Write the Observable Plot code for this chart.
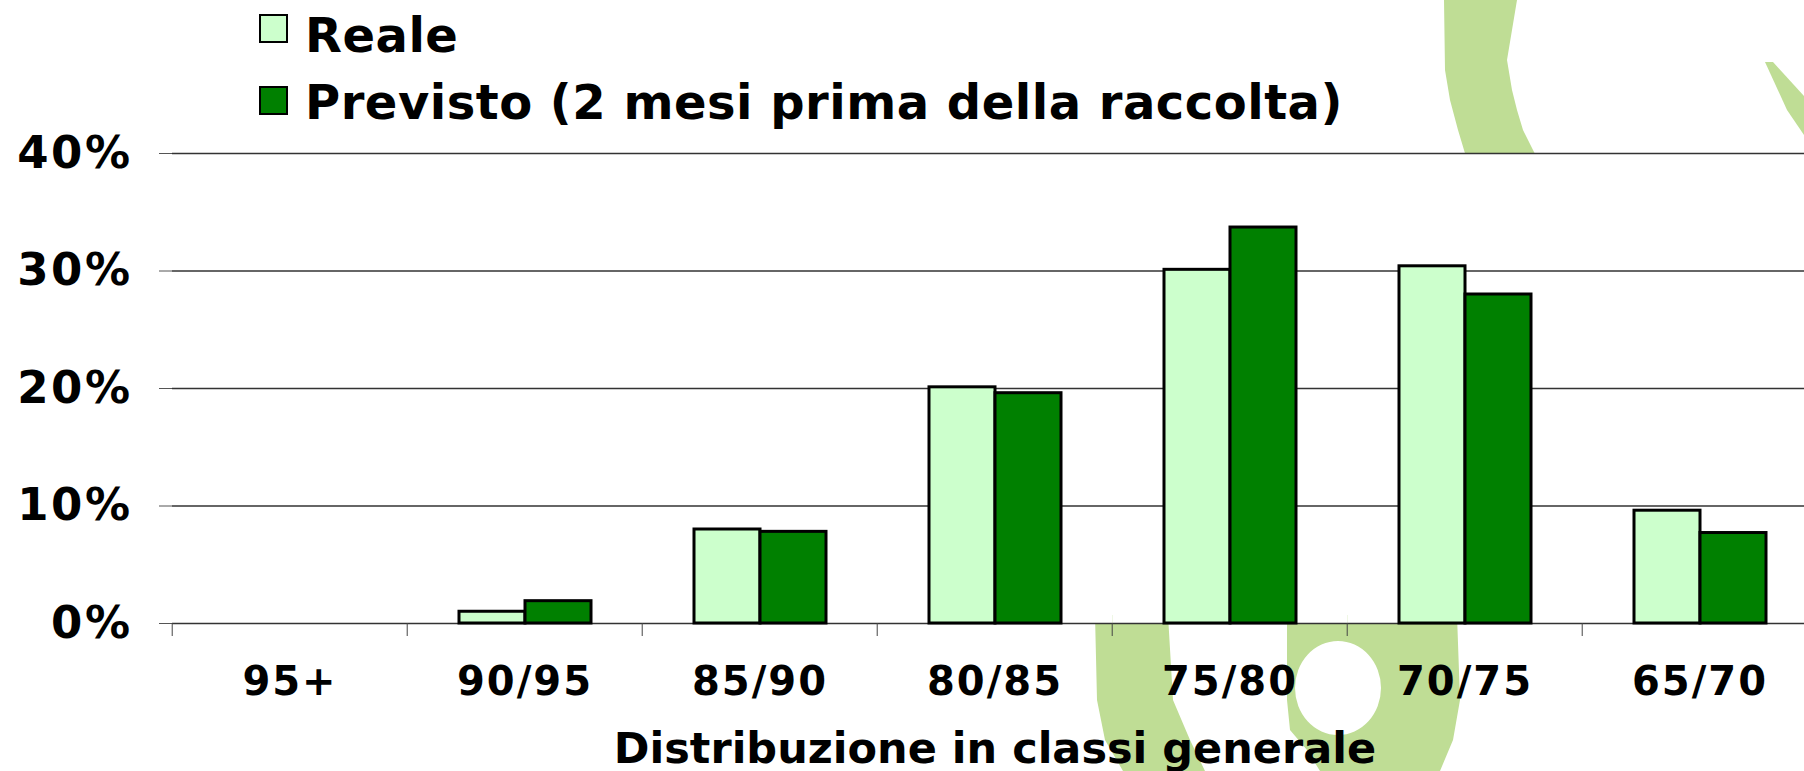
<!DOCTYPE html>
<html>
<head>
<meta charset="utf-8">
<script src="https://cdn.jsdelivr.net/npm/d3@7"></script>
<script src="https://cdn.jsdelivr.net/npm/@observablehq/plot@0.6"></script>
<style>
  html, body { margin: 0; padding: 0; background: white; }
  body { width: 1804px; height: 771px; overflow: hidden; font-family: "DejaVu Sans", Verdana, sans-serif; }
  #page { position: relative; width: 1804px; height: 771px; }
  #wm { position: absolute; left: 0; top: 0; z-index: 0; }
  #content { position: relative; z-index: 1; }
  #legend { position: relative; height: 96px; }
  .sw { position: absolute; box-sizing: border-box; border: 2px solid #000; width: 29px; height: 29px; }
  .lt { position: absolute; font-weight: bold; font-size: 48px; line-height: 48px; white-space: nowrap; letter-spacing: 0.5px; color: #000; }
  #xtitle { height: 51px; line-height: 51px; padding-top: 3px; box-sizing: border-box; font-weight: bold; font-size: 43px; color: #000; text-align: center; padding-left: 186px; white-space: nowrap; }
  g[aria-label="y-axis tick label"] text { letter-spacing: 2.5px; }
  g[aria-label="fx-axis tick label"] text { letter-spacing: 2px; }
</style>
</head>
<body>
<div id="page">
  <svg id="wm" width="1804" height="771" viewBox="0 0 1804 771">
    <g fill="#bfdd95">
      <path d="M1444,0 L1445,70 L1450,100 L1458,130 L1467,160 L1538,160 L1523,130 L1517,110 L1512,90 L1507,60 L1512,30 L1517,0 Z"/>
      <path d="M1765,62 L1773,62 L1804,96 L1804,135 L1787,110 Z"/>
      <path d="M1095,615 L1168,615 L1173,700 L1190,740 L1205,771 L1123,771 L1105,740 L1097,700 Z"/>
      <path fill-rule="evenodd" d="M1287,615 L1457,615 L1460,700 L1453,740 L1440,771 L1320,771 L1307,750 L1290,730 L1287,700 Z M1295,688 A43,47 0 1,0 1381,688 A43,47 0 1,0 1295,688 Z"/>
    </g>
  </svg>
  <div id="content">
    <div id="legend"></div>
    <div id="chart"></div>
    <div id="xtitle"></div>
  </div>
</div>
<script>
// ---- data ----
const categories = ["95+", "90/95", "85/90", "80/85", "75/80", "70/75", "65/70"];
const series = ["Reale", "Previsto (2 mesi prima della raccolta)"];
const seriesColors = ["#ccffcc", "#008000"];
const reale =    [0, 0.010, 0.080, 0.201, 0.301, 0.304, 0.096];
const previsto = [0, 0.019, 0.078, 0.196, 0.337, 0.280, 0.077];
const yTicks = [0, 0.1, 0.2, 0.3, 0.4];
const yTickLabels = ["0%", "10%", "20%", "30%", "40%"];
const xTitle = "Distribuzione in classi generale";

// ---- table ----
const rows = categories.flatMap((c, i) => [
  {category: c, series: series[0], value: reale[i]},
  {category: c, series: series[1], value: previsto[i]}
]);

// ---- legend ----
const legend = document.getElementById("legend");
const legendTops = [14, 86];
const textTops = [11, 78];
series.forEach((s, i) => {
  const sw = document.createElement("div");
  sw.className = "sw";
  sw.style.left = "259px";
  sw.style.top = legendTops[i] + "px";
  sw.style.background = seriesColors[i];
  legend.appendChild(sw);
  const t = document.createElement("div");
  t.className = "lt";
  t.style.left = "305px";
  t.style.top = textTops[i] + "px";
  t.textContent = s;
  legend.appendChild(t);
});

// ---- chart ----
const W = 1804, mL = 170, mR = -15;
const bw = (W - mL - mR) / categories.length;

const chart = Plot.plot({
  width: W,
  height: 624,
  marginLeft: mL,
  marginRight: mR,
  marginTop: 57,
  marginBottom: 97,
  style: {background: "transparent", fontFamily: "DejaVu Sans, Verdana, sans-serif", color: "black"},
  fx: {domain: categories, padding: 0},
  x: {domain: series, paddingInner: 0, paddingOuter: 0.757, axis: null},
  y: {domain: [0, 0.4]},
  color: {domain: series, range: seriesColors},
  marks: [
    Plot.frame({fill: "white", stroke: null}),
    Plot.gridY(yTicks, {stroke: "#333", strokeOpacity: 1, strokeWidth: 1.3}),
    Plot.axisY(yTicks, {
      tickSize: 13, tickPadding: 27, line: true, stroke: "#555",
      tickFormat: d => yTickLabels[yTicks.indexOf(d)],
      fontSize: 45, fontWeight: "bold", label: null
    }),
    Plot.barY(rows, {
      fx: "category", x: "series", y: "value", fill: "series",
      stroke: "black", strokeWidth: 3, filter: d => d.value > 0
    }),
    Plot.axisFx({anchor: "bottom", tickSize: 13, tickFormat: () => "", dx: -bw / 2, stroke: "#444", label: null}),
    Plot.axisFx({anchor: "bottom", tickSize: 0, tickPadding: 43, fontSize: 40, fontWeight: "bold", label: null})
  ]
});
document.getElementById("chart").appendChild(chart);
document.getElementById("xtitle").textContent = xTitle;
</script>
</body>
</html>
